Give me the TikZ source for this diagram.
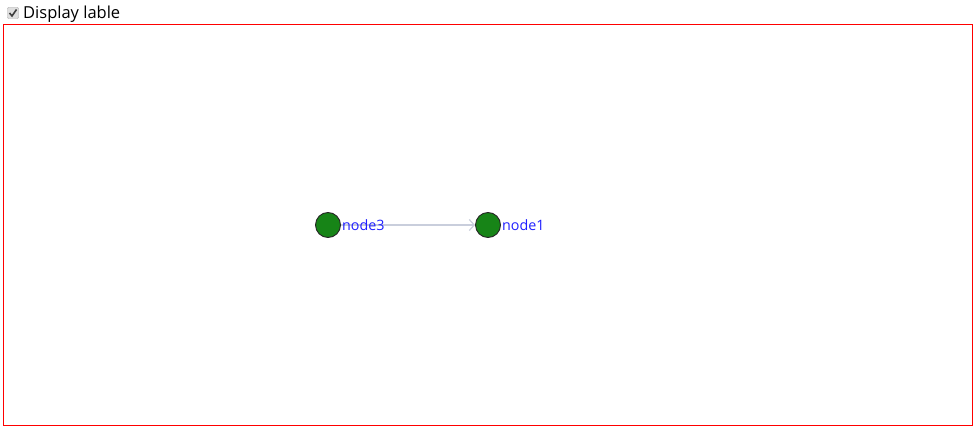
\documentclass[tikz,border=0pt]{standalone}
\usepackage{fontspec}
\setmainfont{Open Sans}
\usepackage{xcolor}
\usepackage{tikz}
\usetikzlibrary{arrows.meta, positioning}

\definecolor{vgreen}{HTML}{178417}
\definecolor{vblue}{HTML}{2020FF}
\definecolor{linkgray}{HTML}{C9CEDC}

\tikzset{
  vertex/.style={circle, draw=black!85, fill=vgreen, line width=0.9pt, minimum size=25pt, inner sep=0pt},
  vlabel/.style={text=vblue, font=\fontsize{14.3}{16}\selectfont, inner sep=0pt},
  link/.style={draw=linkgray, line width=1.2pt, -{Straight Barb[length=5pt, width=11pt]}}
}

\begin{document}
\begin{tikzpicture}[x=1pt, y=-1pt]
\useasboundingbox (0,0) rectangle (974,430);
% header with checkbox
\node (box) [draw=gray!70, fill=gray!25, rounded corners=1pt, minimum size=11pt, inner sep=0pt] at (13,13) {};
\draw[black!75, line width=1.6pt] (9.5,13) -- (12,16) -- (16.5,9.5);
\node (title) [anchor=west, inner sep=0pt, font=\fontsize{16.5}{19}\selectfont] at (23,14) {Display lable};
% frame
\draw[red, line width=1pt] (3.5,24.5) rectangle (972.5,425.5);

% graph
\node (n3) [vertex] at (328,225) {};
\node (n1) [vertex] at (488,225) {};
\draw[link] (n3) -- (n1);
\node (n3lab) [vlabel, right=1pt of n3] {node3};
\node (n1lab) [vlabel, right=1pt of n1] {node1};
\end{tikzpicture}
\end{document}
